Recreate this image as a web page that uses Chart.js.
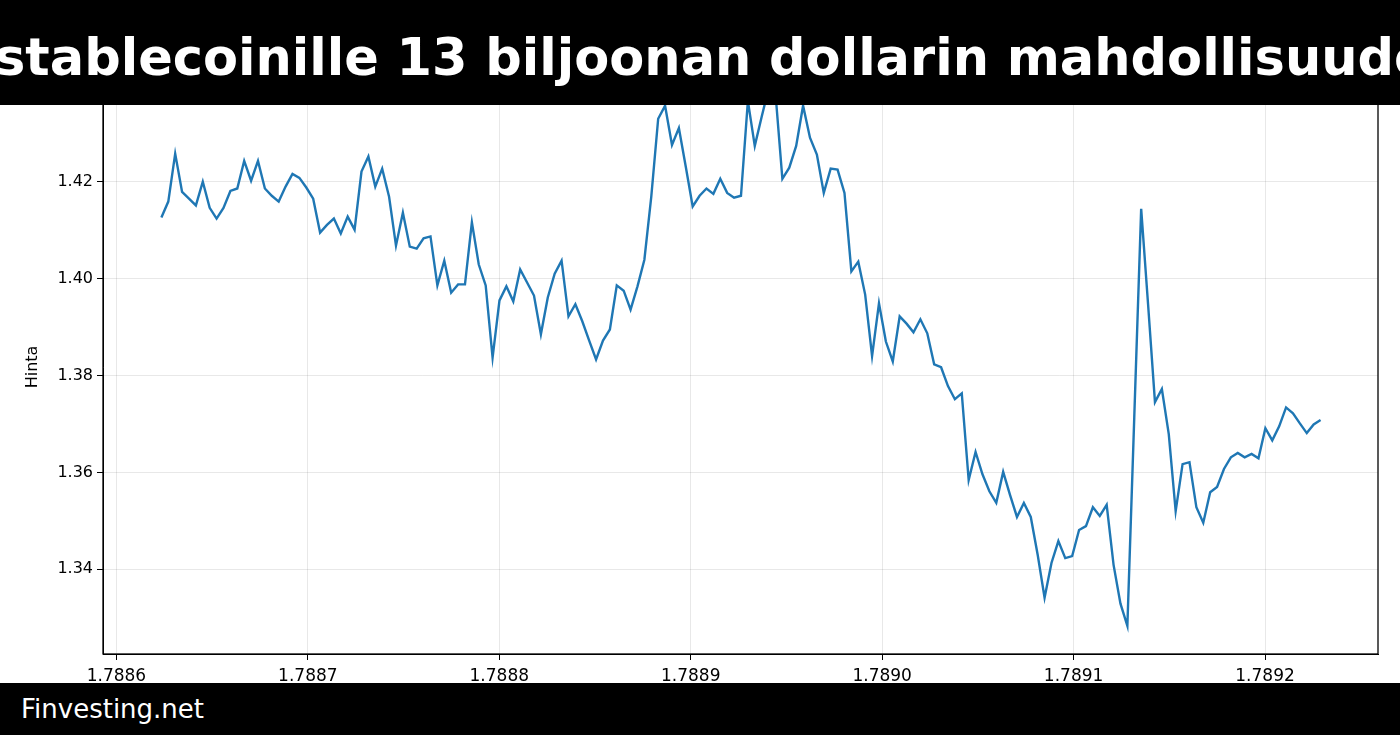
<!DOCTYPE html>
<html><head><meta charset="utf-8">
<script src="https://cdn.jsdelivr.net/npm/chart.js@4"></script>
<style>
html,body{margin:0;padding:0;background:#fff;overflow:hidden}
#wrap{position:relative;width:1400px;height:735px}
#title{position:absolute;left:0;top:0;width:1400px;height:105px;background:#000;overflow:hidden}
#title span{position:absolute;left:-5px;top:28px;color:#fff;font:bold 51px "DejaVu Sans";white-space:nowrap}
#foot{position:absolute;left:0;top:683px;width:1400px;height:52px;background:#000;color:#fff;font:26px "DejaVu Sans";line-height:52px;padding-left:21px;box-sizing:border-box}
canvas{position:absolute;left:0;top:0}
</style></head><body>
<div id="wrap"><canvas id="c" width="1400" height="735"></canvas>
<div id="title"><span>stablecoinille 13 biljoonan dollarin mahdollisuudet</span></div>
<div id="foot">Finvesting.net</div></div>
<script>
const xStart = 1.7886235;
const xEnd = 1.789229;
const prices = [1.4126,1.4159,1.4258,1.4179,1.4165,1.4151,1.4200,1.4146,1.4124,1.4146,1.4181,1.4186,1.4243,1.4202,1.4243,1.4186,1.4171,1.4159,1.4190,1.4216,1.4208,1.4188,1.4165,1.4095,1.4111,1.4124,1.4093,1.4128,1.4101,1.4221,1.4252,1.4190,1.4227,1.4169,1.4068,1.4136,1.4066,1.4062,1.4083,1.4087,1.3986,1.4037,1.3971,1.3988,1.3988,1.4116,1.4029,1.3986,1.3837,1.3955,1.3984,1.3953,1.4019,1.3992,1.3965,1.3885,1.3961,1.4010,1.4037,1.3922,1.3947,1.3912,1.3872,1.3833,1.3872,1.3895,1.3986,1.3975,1.3936,1.3984,1.4039,1.4169,1.4330,1.4357,1.4276,1.4311,1.4231,1.4149,1.4171,1.4186,1.4175,1.4206,1.4177,1.4167,1.4171,1.4367,1.4274,1.4334,1.4392,1.4383,1.4206,1.4229,1.4274,1.4357,1.4291,1.4256,1.4177,1.4227,1.4225,1.4177,1.4015,1.4035,1.3967,1.3840,1.3949,1.3870,1.3829,1.3922,1.3907,1.3889,1.3916,1.3887,1.3823,1.3817,1.3778,1.3751,1.3763,1.3584,1.3642,1.3596,1.3561,1.3537,1.3601,1.3553,1.3508,1.3537,1.3508,1.3430,1.3341,1.3413,1.3458,1.3423,1.3427,1.3481,1.3489,1.3528,1.3510,1.3533,1.3409,1.3329,1.3283,1.3714,1.4144,1.3947,1.3745,1.3772,1.3679,1.3520,1.3617,1.3621,1.3528,1.3496,1.3559,1.3570,1.3607,1.3631,1.3640,1.3631,1.3638,1.3629,1.3691,1.3666,1.3695,1.3734,1.3722,1.3701,1.3681,1.3699,1.3708];
const yTicks = [1.34,1.36,1.38,1.40,1.42];
const xTicks = [1.7886,1.7887,1.7888,1.7889,1.7890,1.7891,1.7892];
const pts = prices.map((v,i)=>({x: xStart + (xEnd-xStart)*i/(prices.length-1), y: v}));
const frame = {id:'frame', afterDatasetsDraw(ch){const a=ch.chartArea,c=ch.ctx;c.save();c.strokeStyle='#000';c.lineWidth=1.3;c.strokeRect(a.left,a.top,a.right-a.left,a.bottom-a.top);c.restore();}};
new Chart(document.getElementById('c'),{
 type:'line',
 data:{datasets:[{data:pts,borderColor:'#1f77b4',borderWidth:2.4,pointRadius:0,tension:0,fill:false,clip:true}]},
 options:{responsive:false,animation:false,
  layout:{padding:{left:19,top:80,right:22,bottom:0}},
  plugins:{legend:{display:false},tooltip:{enabled:false}},
  scales:{
   x:{type:'linear',min:1.788593,max:1.789259,
      afterBuildTicks(s){s.ticks=xTicks.map(v=>({value:v}));},
      afterFit(s){s.height=81;},
      grid:{color:'rgba(0,0,0,0.09)',tickColor:'#000',tickLength:6,drawTicks:true},
      border:{color:'#000'},
      ticks:{color:'#000',font:{family:'DejaVu Sans',size:17},padding:6,maxRotation:0,callback:v=>v.toFixed(4)}},
   y:{min:1.3225,max:1.441,
      afterBuildTicks(s){s.ticks=yTicks.map(v=>({value:v}));},
      afterFit(s){s.width=84;},
      grid:{color:'rgba(0,0,0,0.09)',tickColor:'#000',tickLength:6},
      border:{color:'#000'},
      title:{display:true,text:'Hinta',color:'#000',font:{family:'DejaVu Sans',size:16},padding:{bottom:10}},
      ticks:{color:'#000',font:{family:'DejaVu Sans',size:16},padding:4,callback:v=>v.toFixed(2)}}
  }},
 plugins:[frame]
});
</script></body></html>
